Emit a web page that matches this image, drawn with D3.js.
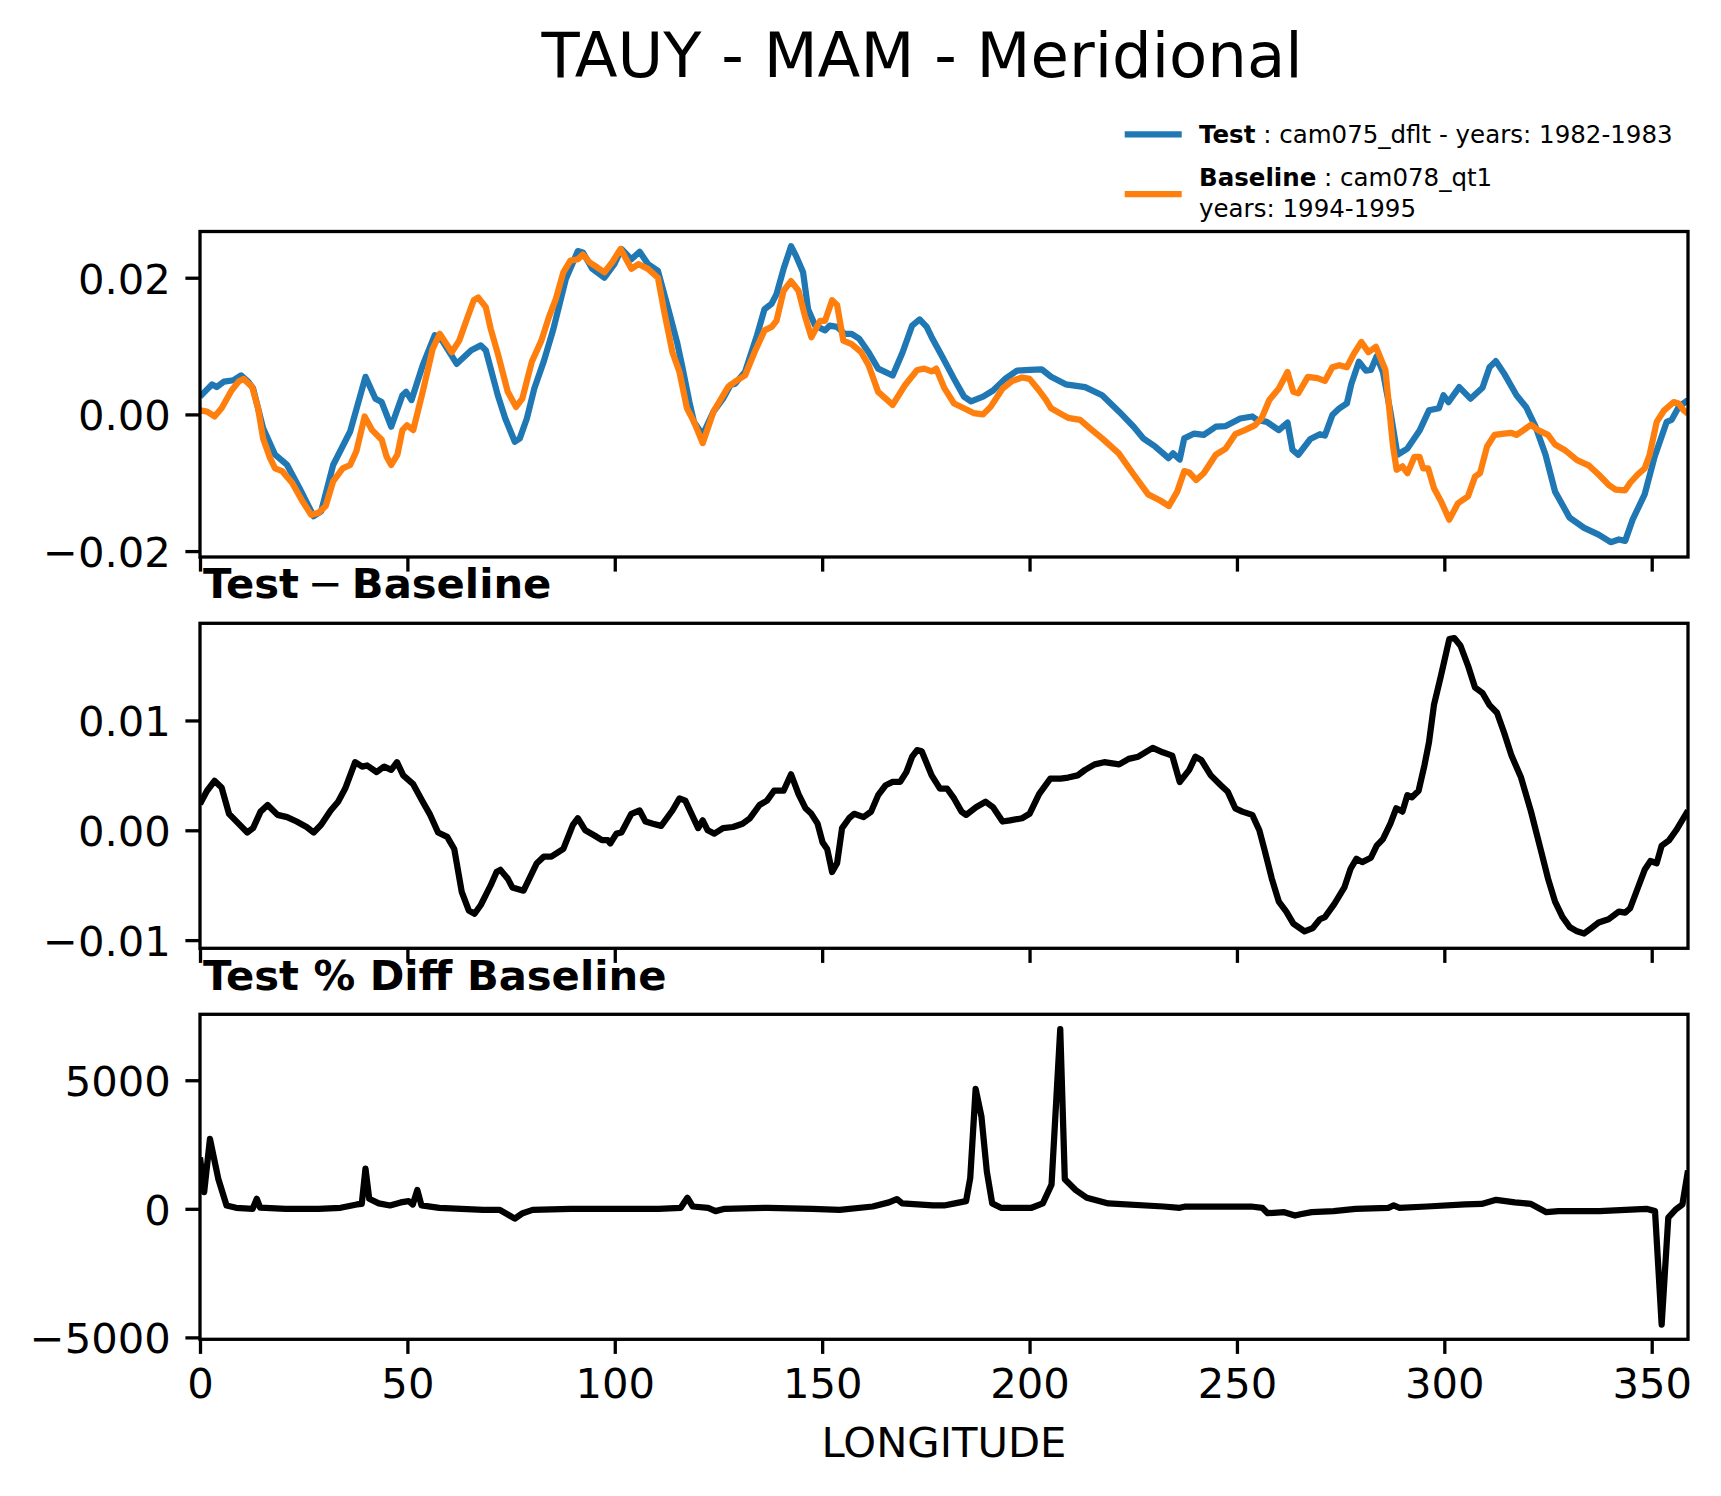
<!DOCTYPE html>
<html>
<head>
<meta charset="utf-8">
<script src="https://cdn.jsdelivr.net/npm/d3@7"></script>
<style>
  body { margin: 0; background: #fff; }
  text { font-family: "DejaVu Sans", sans-serif; fill: #000; }
</style>
</head>
<body>
<svg id="chart" width="1721" height="1496"></svg>
<script>
// zonal-mean TAUY values, by longitude
const testLon = [0,2.9,4.05,5.8,8.1,9.9,11.6,12.8,15.2,18.1,
  21,24,27.4,29.2,32.1,36.2,39.9,42.3,43.8,46.1,
  48.8,49.7,51,53.7,56.6,58.4,61.9,65.4,67.7,68.9,
  71.8,73.6,75.9,77.1,78.8,80.6,82.9,85.2,88.2,91.1,
  92.3,94.6,97.5,99.9,101.6,104,106,108,110.4,112.7,
  115,116.2,118,119.1,121.2,123.8,126.1,127.9,129,131.4,
  134.3,136.1,137.8,139,140.7,142.5,143.7,145.4,146.6,148.3,
  150.7,151.8,153.6,155.4,157.1,158.9,161.2,163.5,167,169.4,
  171.7,173.5,175.2,176.4,178.9,181.8,184.2,185.9,188.8,191.2,
  194.1,197,200,202.9,205.2,208.7,213.4,217.5,221.6,225.1,
  227.4,230.3,233.5,234.6,236.2,237.3,239.7,242,244.9,247.3,
  250.8,253.7,254.9,257.2,260.1,262.2,263.4,264.8,267.7,270,
  271.2,273,274.7,276.5,277.6,279.4,281.1,282.3,283.7,285.2,
  287,288.7,291.1,294,296.3,298.7,299.8,301,303.6,306.3,
  309.2,310.9,312.4,314.4,317.4,319.7,322,324.4,326.7,330.2,
  333.7,337.2,340.1,342.1,343.6,345.4,348.3,350.7,353.6,354.8,
  356.5,358.75];
const testTauy = [0.0026,0.0044,0.0040,0.0048,0.0050,0.0057,0.0048,0.0038,-0.0020,-0.0059,
  -0.0074,-0.0108,-0.0149,-0.0142,-0.0074,-0.0025,0.0055,0.0023,0.0018,-0.0018,
  0.0028,0.0033,0.0021,0.0072,0.0116,0.0108,0.0074,0.0094,0.0101,0.0094,
  0.0028,-0.0006,-0.0040,-0.0035,-0.0006,0.0038,0.0078,0.0125,0.0198,0.0239,
  0.0237,0.0213,0.0200,0.0220,0.0242,0.0227,0.0238,0.0220,0.0210,0.0159,
  0.0106,0.0072,0.0018,-0.0011,-0.0030,0.0004,0.0023,0.0043,0.0045,0.0062,
  0.0116,0.0154,0.0162,0.0176,0.0213,0.0246,0.0232,0.0208,0.0154,0.0130,
  0.0123,0.0130,0.0128,0.0118,0.0118,0.0111,0.0091,0.0067,0.0057,0.0091,
  0.0130,0.0139,0.0128,0.0113,0.0085,0.0052,0.0026,0.0019,0.0026,0.0035,
  0.0052,0.0064,0.0065,0.0066,0.0055,0.0044,0.0040,0.0028,0.0004,-0.0018,
  -0.0035,-0.0047,-0.0064,-0.0057,-0.0066,-0.0035,-0.0028,-0.0030,-0.0018,-0.0017,
  -0.0006,-0.0003,-0.0008,-0.0011,-0.0023,-0.0012,-0.0052,-0.0059,-0.0036,-0.0029,
  -0.0031,-0.0001,0.0009,0.0016,0.0045,0.0077,0.0064,0.0065,0.0085,0.0062,
  0.0004,-0.0059,-0.0050,-0.0024,0.0006,0.0009,0.0028,0.0018,0.0040,0.0023,
  0.0039,0.0069,0.0078,0.0060,0.0028,0.0011,-0.0018,-0.0059,-0.0113,-0.0151,
  -0.0166,-0.0176,-0.0187,-0.0183,-0.0185,-0.0154,-0.0117,-0.0062,-0.0011,-0.0008,
  0.0011,0.0021];

const baseLon = [0,1.7,3.5,5.2,7.6,9.3,10.5,12.6,14,15.2,
  16.9,18.1,19.8,22.2,24.5,26.8,28.6,30.3,32.1,34.4,
  36.2,37.7,39.7,41.5,43.8,45,46.1,47.6,48.8,49.9,
  51.4,53.7,56.1,57.8,60.7,62.5,64.2,66,67.1,68.9,
  70.1,71.8,74.2,76.2,77.7,80,82.3,84.1,85.8,87.6,
  89.3,91.1,92.3,94,95.8,97.5,99.3,101.4,104,105.7,
  108,110.4,112.1,113.9,115.6,117.4,119.1,121.2,123.8,127.3,
  129,131.4,133.7,136.1,137.8,139,140.7,142.5,144.3,145.8,
  147.4,149.5,150.7,152.4,153.6,155.1,157.1,159.4,161.2,163.5,
  167,170,172.9,174.6,176.4,177.5,179.5,181.8,184.2,186.5,
  188.8,190.6,193.5,195.8,198.2,200,202.3,204,205.2,208.1,
  209.3,212.2,214.5,217.5,221.5,225.1,228.6,231.5,233.6,235.6,
  237.3,238.5,240.2,242,244.9,247.3,249.6,251.9,254.3,256,
  257.8,260.1,262.2,263.6,264.8,267.1,269.4,271.2,273,274.7,
  276.5,278.2,280,281.7,283.5,285.8,287.6,288.5,289.9,291.1,
  292.8,294,294.9,296.1,297.5,299.2,301.2,303.3,305.7,307.4,
  308.6,310.3,312.1,314.4,316.2,317.4,319.1,320.9,322.6,325,
  326.7,329,332,334.9,337.2,339.6,341.3,343.6,344.8,346.6,
  348.3,349.5,351.2,353,355.3,356.5,357.7,358.75];
const baseTauy = [0.0006,0.0004,-0.0003,0.0009,0.0035,0.0048,0.0052,0.0040,0.0009,-0.0035,
  -0.0064,-0.0079,-0.0083,-0.0100,-0.0125,-0.0147,-0.0144,-0.0134,-0.0098,-0.0079,
  -0.0074,-0.0054,-0.0003,-0.0023,-0.0037,-0.0062,-0.0074,-0.0059,-0.0023,-0.0016,
  -0.0023,0.0033,0.0096,0.0118,0.0091,0.0108,0.0137,0.0167,0.0171,0.0157,
  0.0125,0.0089,0.0033,0.0011,0.0023,0.0077,0.0108,0.0142,0.0169,0.0208,
  0.0225,0.0227,0.0234,0.0222,0.0215,0.0208,0.0222,0.0242,0.0213,0.0220,
  0.0213,0.0200,0.0145,0.0091,0.0062,0.0009,-0.0011,-0.0042,0.0004,0.0040,
  0.0048,0.0057,0.0091,0.0123,0.0128,0.0137,0.0181,0.0195,0.0181,0.0145,
  0.0113,0.0137,0.0137,0.0167,0.0160,0.0108,0.0103,0.0091,0.0072,0.0033,
  0.0014,0.0043,0.0065,0.0067,0.0063,0.0067,0.0038,0.0016,0.0009,0.0002,
  0.0000,0.0011,0.0038,0.0049,0.0054,0.0052,0.0035,0.0021,0.0009,-0.0001,
  -0.0005,-0.0008,-0.0020,-0.0035,-0.0057,-0.0088,-0.0117,-0.0126,-0.0134,-0.0113,
  -0.0083,-0.0085,-0.0096,-0.0086,-0.0059,-0.0050,-0.0029,-0.0023,-0.0016,-0.0005,
  0.0021,0.0038,0.0062,0.0033,0.0031,0.0055,0.0053,0.0049,0.0069,0.0072,
  0.0069,0.0089,0.0106,0.0091,0.0099,0.0065,-0.0045,-0.0081,-0.0076,-0.0086,
  -0.0062,-0.0062,-0.0079,-0.0079,-0.0108,-0.0127,-0.0154,-0.0130,-0.0120,-0.0091,
  -0.0086,-0.0047,-0.0030,-0.0028,-0.0027,-0.0030,-0.0023,-0.0015,-0.0023,-0.0030,
  -0.0044,-0.0052,-0.0067,-0.0075,-0.0088,-0.0103,-0.0110,-0.0111,-0.0100,-0.0088,
  -0.0079,-0.0059,-0.0011,0.0006,0.0018,0.0016,0.0006,0.0001];

const diffLon = [0,1.7,3.5,5.2,7,9.3,11.4,12.8,14.6,16.3,
  18.7,21,23.3,25.7,27.4,29.2,31.5,33.3,35,37.4,
  39.1,40.3,42.6,44.4,46.1,47.5,49,51.4,53.7,55.5,
  57.4,59.6,61.3,63.1,64.8,66.2,67.7,70.1,71.5,72.4,
  74.2,75.3,78,79.4,81.2,82.9,84.7,87.6,89.9,91.1,
  92.9,95.2,96.9,98.3,98.9,100.4,101.6,104,106,107.4,
  109.2,111.2,113.9,115.6,117,118.5,120.1,121.2,122.4,124,
  126.1,128.5,130.8,132.6,134.9,136.7,138.4,140.7,142.5,144.3,
  146,147.4,148.9,150.1,151.2,152.4,153.6,154.8,156.5,157.7,
  160,161.8,163.5,165.3,167,168.8,170.3,171.7,172.9,174,
  176.4,178.4,180.1,181.8,183.6,184.7,187.1,189.4,191.2,193.5,
  195.3,198.2,200,202.3,205,207.5,209.3,211.6,213.4,215.7,
  218,221.6,223.9,226.2,229.7,232.1,234.4,236.2,238.5,240,
  241.4,243.7,246.1,247.8,249.6,251.3,253.7,255.4,256.6,258.4,
  260.1,261.9,263.6,266.3,268.3,270,271.2,273.5,275.9,277.4,
  278.8,280.2,282.3,283.7,285.2,287,288.4,289.9,291.1,292.2,
  293.8,295.2,296.3,297.5,299.2,301.2,302.4,303.9,305.7,307.4,
  309.2,310.9,312.7,314.4,316.2,318.5,320.9,323.2,325,326.7,
  328.5,330.2,332,333.7,335.5,337.2,339.6,342.1,343.6,344.8,
  346.6,348.3,349.7,351.2,352.4,354.2,355.9,358.75];
const diffTauy = [0.0024,0.0036,0.0045,0.0039,0.0015,0.0006,-0.0002,0.0002,0.0017,0.0023,
  0.0014,0.0012,0.0008,0.0003,-0.0002,0.0005,0.0018,0.0026,0.0038,0.0062,
  0.0058,0.0059,0.0053,0.0058,0.0055,0.0062,0.0050,0.0042,0.0026,0.0014,
  -0.0002,-0.0006,-0.0017,-0.0056,-0.0073,-0.0076,-0.0068,-0.0050,-0.0038,-0.0036,
  -0.0044,-0.0052,-0.0055,-0.0044,-0.0030,-0.0024,-0.0024,-0.0017,0.0005,0.0011,
  0.0000,-0.0005,-0.0009,-0.0009,-0.0012,-0.0003,-0.0002,0.0015,0.0018,0.0008,
  0.0006,0.0004,0.0018,0.0029,0.0027,0.0015,0.0002,0.0009,0.0000,-0.0003,
  0.0002,0.0003,0.0006,0.0011,0.0023,0.0027,0.0036,0.0036,0.0051,0.0033,
  0.0020,0.0015,0.0006,-0.0011,-0.0017,-0.0038,-0.0030,0.0002,0.0011,0.0015,
  0.0012,0.0017,0.0032,0.0041,0.0044,0.0044,0.0053,0.0067,0.0073,0.0072,
  0.0050,0.0038,0.0038,0.0029,0.0017,0.0014,0.0021,0.0026,0.0021,0.0008,
  0.0009,0.0011,0.0015,0.0033,0.0047,0.0047,0.0048,0.0050,0.0055,0.0060,
  0.0062,0.0060,0.0065,0.0067,0.0075,0.0071,0.0068,0.0044,0.0055,0.0067,
  0.0064,0.0050,0.0041,0.0035,0.0020,0.0017,0.0014,0.0000,-0.0017,-0.0044,
  -0.0065,-0.0074,-0.0085,-0.0092,-0.0089,-0.0081,-0.0079,-0.0067,-0.0052,-0.0035,
  -0.0026,-0.0029,-0.0025,-0.0014,-0.0008,0.0006,0.0020,0.0017,0.0032,0.0030,
  0.0036,0.0059,0.0080,0.0114,0.0141,0.0174,0.0175,0.0168,0.0150,0.0130,
  0.0125,0.0114,0.0107,0.0089,0.0068,0.0048,0.0017,-0.0017,-0.0044,-0.0065,
  -0.0079,-0.0088,-0.0092,-0.0094,-0.0089,-0.0084,-0.0081,-0.0074,-0.0075,-0.0071,
  -0.0053,-0.0036,-0.0028,-0.0030,-0.0014,-0.0009,0.0000,0.0018];

const pctLon = [0,1,2.4,4.4,6.4,8.7,12.7,13.7,14.5,20.6,
  28.6,33.9,37.8,39,39.9,40.8,43.1,45.8,48.4,50.3,
  51.3,52.4,53.4,57.7,63,68.3,72.2,74.1,75.9,77.8,
  80.2,89.4,110.6,115.9,117.5,118.8,122.5,124.3,126.5,137,
  147.6,154.2,162.2,166.1,168,169.3,176.7,179.4,182,184.7,
  185.7,187,188.4,189.7,191,193.1,200.5,203.2,205.3,207.4,
  208.5,211.1,213.8,219,232.3,236.2,237.6,253.4,256.1,257.4,
  261.4,264,265.3,268,273.3,278.6,286.5,287.8,289.2,295.8,
  305,309,312.5,317,320.9,324.6,327.5,332.8,337.4,348.7,
  350.8,352.4,354,355.7,357.4,358.75];
const pctDiff = [2000,650,2720,1170,130,40,0,390,50,0,
  0,40,170,195,1560,390,210,130,250,300,
  170,730,130,40,0,-40,-40,-210,-380,-170,
  -40,0,0,40,430,90,40,-90,0,40,
  0,-40,90,250,380,210,130,130,210,300,
  1200,4660,3590,1450,210,40,40,210,940,6990,
  1150,730,430,210,90,40,90,90,40,-170,
  -130,-260,-210,-130,-90,0,40,130,40,90,
  170,190,350,250,190,-130,-90,-90,-90,0,
  -90,-4500,-340,-40,170,1490];

const lonTicks = [0, 50, 100, 150, 200, 250, 300, 350];
const tauyTicks = [-0.02, 0, 0.02];
const diffTicks = [-0.01, 0, 0.01];
const pctTicks = [-5000, 0, 5000];

const blue = "#1f77b4", orange = "#ff7f0e";
const fontPx = 41.7, tickLen = 14.6, spineW = 3.3, lineW = 6.25;

const svg = d3.select("#chart");
const x = d3.scaleLinear().domain([0, 358.75]).range([200, 1688]);

// matplotlib style 5% margin around the data
function padded(vals) {
  let [lo, hi] = d3.extent(vals);
  let pad = (hi - lo) * 0.05;
  return [lo - pad, hi + pad];
}

function drawPanel(top, bottom, series, yTicks, fmt, xLabels, id) {
  let y = d3.scaleLinear()
    .domain(padded(series.flatMap(s => s.vals)))
    .range([bottom, top]);
  let g = svg.append("g");

  g.append("clipPath").attr("id", id)
    .append("rect")
    .attr("x", x.range()[0]).attr("y", top)
    .attr("width", x.range()[1] - x.range()[0]).attr("height", bottom - top);

  series.forEach(s => {
    let line = d3.line().x((d, i) => x(s.lon[i])).y(d => y(d));
    g.append("path")
      .datum(s.vals)
      .attr("d", line)
      .attr("clip-path", "url(#" + id + ")")
      .attr("fill", "none")
      .attr("stroke", s.color)
      .attr("stroke-width", lineW)
      .attr("stroke-linejoin", "round");
  });

  let yAxis = d3.axisLeft(y).tickValues(yTicks).tickFormat(d3.format(fmt))
    .tickSize(tickLen).tickPadding(tickLen);
  let ya = g.append("g").attr("transform", "translate(" + x.range()[0] + ",0)").call(yAxis);

  let xAxis = d3.axisBottom(x).tickValues(lonTicks).tickSize(tickLen).tickPadding(tickLen)
    .tickFormat(xLabels ? d3.format("d") : "");
  let xa = g.append("g").attr("transform", "translate(0," + bottom + ")").call(xAxis);

  [ya, xa].forEach(a => {
    a.select(".domain").remove();
    a.attr("font-family", null).attr("font-size", null);
    a.selectAll("line").attr("stroke", "#000").attr("stroke-width", spineW);
    a.selectAll("text").style("font-size", fontPx + "px").attr("fill", "#000");
  });
  ya.selectAll("text").attr("dy", "0.37em");

  g.append("rect")
    .attr("x", x.range()[0]).attr("y", top)
    .attr("width", x.range()[1] - x.range()[0]).attr("height", bottom - top)
    .attr("fill", "none").attr("stroke", "#000").attr("stroke-width", spineW);
}

drawPanel(231.5, 557, [
  {lon: testLon, vals: testTauy, color: blue},
  {lon: baseLon, vals: baseTauy, color: orange}
], tauyTicks, ".2f", false, "clipTop");

drawPanel(623.3, 948.3, [
  {lon: diffLon, vals: diffTauy, color: "#000"}
], diffTicks, ".2f", false, "clipMid");

drawPanel(1014.3, 1339.3, [
  {lon: pctLon, vals: pctDiff, color: "#000"}
], pctTicks, "d", true, "clipBot");

// titles
svg.append("text")
  .attr("x", 922).attr("y", 76.7)
  .attr("text-anchor", "middle")
  .style("font-size", "62.5px")
  .text("TAUY - MAM - Meridional");

let t1 = svg.append("text").attr("x", 203).attr("y", 598.3).style("font-size", fontPx + "px");
t1.append("tspan").attr("font-weight", "bold").text("Test");
t1.append("tspan").attr("dx", 9).text("\u2212");
t1.append("tspan").attr("dx", 9).attr("font-weight", "bold").text("Baseline");

svg.append("text")
  .attr("x", 203).attr("y", 990)
  .attr("font-weight", "bold")
  .style("font-size", fontPx + "px")
  .text("Test % Diff Baseline");

svg.append("text")
  .attr("x", (x.range()[0] + x.range()[1]) / 2).attr("y", 1457)
  .attr("text-anchor", "middle")
  .style("font-size", fontPx + "px")
  .text("LONGITUDE");

// legend
const legend = svg.append("g");
const legendItems = [
  {color: blue, lineY: 134.3, name: "Test", lines: [[143, " : cam075_dflt - years: 1982-1983"]]},
  {color: orange, lineY: 194, name: "Baseline", lines: [[186, " : cam078_qt1"], [216.7, "years: 1994-1995"]]}
];
legendItems.forEach(item => {
  legend.append("line")
    .attr("x1", 1124.7).attr("x2", 1181.7)
    .attr("y1", item.lineY).attr("y2", item.lineY)
    .attr("stroke", item.color).attr("stroke-width", lineW);
  item.lines.forEach(([ty, txt], i) => {
    let t = legend.append("text").attr("x", 1199).attr("y", ty).style("font-size", "24.5px");
    if (i == 0) t.append("tspan").attr("font-weight", "bold").text(item.name);
    t.append("tspan").text(txt);
  });
});
</script>
</body>
</html>
